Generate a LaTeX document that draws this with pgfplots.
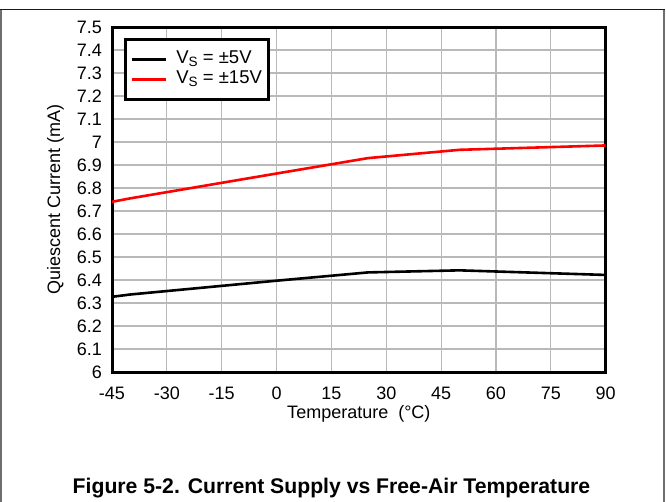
\documentclass[border=0pt]{standalone}
\usepackage{fontspec}
\setmainfont{Liberation Sans}
\usepackage{pgfplots}
\pgfplotsset{compat=1.18}
\definecolor{gridgray}{RGB}{185,185,185}
\definecolor{framegray}{RGB}{110,110,110}
\newcommand{\subS}{\raisebox{-0.28ex}{\fontsize{13.5bp}{14bp}\selectfont S}}
\begin{document}
\begin{tikzpicture}
\path[use as bounding box] (0,0) rectangle (666bp,-502bp);
\draw[framegray, line width=1.2bp] (1bp,-502bp) -- (1bp,-9.5bp);
\draw[framegray, line width=1.2bp] (664bp,-502bp) -- (664bp,-9.5bp);
\draw[black!90, line width=1.2bp] (0.4bp,-9.5bp) -- (664.6bp,-9.5bp);
\begin{axis}[
  at={(112bp,-372bp)}, anchor=south west,
  width=493.7bp, height=345bp, scale only axis,
  xmin=-45, xmax=90, ymin=6, ymax=7.5,
  xtick={-45,-30,-15,0,15,30,45,60,75,90},
  xticklabels={-45,-30,-15,0,15,30,45,60,75,90},
  ytick={6,6.1,6.2,6.3,6.4,6.5,6.6,6.7,6.8,6.9,7,7.1,7.2,7.3,7.4,7.5},
  yticklabels={6,6.1,6.2,6.3,6.4,6.5,6.6,6.7,6.8,6.9,7,7.1,7.2,7.3,7.4,7.5},
  major tick length=0pt,
  grid=major,
  major grid style={gridgray, line width=1.1bp},
  axis line style={black, line width=3bp},
  tick label style={font=\fontsize{18bp}{20bp}\selectfont, inner sep=0pt},
  xticklabel style={anchor=base, yshift=-27bp},
  yticklabel style={anchor=east, xshift=-10bp},
  label style={font=\fontsize{18bp}{20bp}\selectfont, inner sep=0pt},
  xlabel={Temperature\ \ (°C)},
  ylabel={Quiescent Current (mA)},
  xlabel style={at={(axis description cs:0.5,0)}, anchor=base, yshift=-46bp},
  ylabel style={at={(axis description cs:-0.1053,0.5)}, anchor=base},
  legend style={at={(0.0243,0.968)}, anchor=north west, draw=black,
    line width=2.6bp, font=\fontsize{18.5bp}{19bp}\selectfont,
    inner xsep=5bp, inner ysep=10bp, row sep=0bp, column sep=8bp,
    nodes={inner sep=1.5bp, text height=13bp, text depth=4bp},
    legend cell align=left},
  legend image code/.code={\draw[#1, line width=2.6bp] (0bp,0bp) -- (34bp,0bp);},
  clip=true,
]
\addplot[black, line width=2.6bp] coordinates {
  (-45,6.327) (-40,6.337) (0,6.397) (25,6.433) (50,6.442) (70,6.432) (90,6.422)
};
\addlegendentry{V\subS\ = ±5V}
\addplot[red, line width=2.6bp] coordinates {
  (-45,6.740) (-40,6.755) (0,6.863) (25,6.930) (50,6.966) (90,6.985)
};
\addlegendentry{V\subS\ = ±15V}
\end{axis}
\node[font=\bfseries\fontsize{21.2bp}{24bp}\selectfont, anchor=base, inner sep=0pt] at (331.5bp,-493bp) {Figure 5-2. Current Supply vs Free-Air Temperature};
\end{tikzpicture}
\end{document}
